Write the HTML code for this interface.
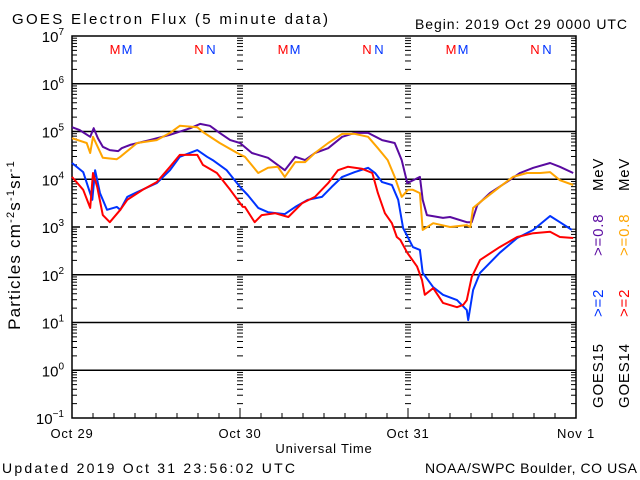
<!DOCTYPE html>
<html><head><meta charset="utf-8"><style>
body{margin:0;background:#fff}
svg{display:block;font-family:"Liberation Sans",sans-serif}
</style></head><body>
<svg id="chart" width="640" height="480" viewBox="0 0 640 480">
<rect width="640" height="480" fill="#fff"/>
<text x="12" y="24" font-size="15" textLength="316" lengthAdjust="spacing">GOES Electron Flux (5 minute data)</text>
<text x="415" y="29" font-size="14" textLength="212" lengthAdjust="spacing">Begin: 2019 Oct 29 0000 UTC</text>
<text transform="translate(20,245) rotate(-90)" font-size="17" text-anchor="middle" letter-spacing="1.2">Particles cm<tspan font-size="11" dy="-6">-2</tspan><tspan dy="6">s</tspan><tspan font-size="11" dy="-6">-1</tspan><tspan dy="6">sr</tspan><tspan font-size="11" dy="-6">-1</tspan></text>
<text x="324" y="453" font-size="13" text-anchor="middle" letter-spacing="0.8">Universal Time</text>
<text x="2" y="473" font-size="14" textLength="293" lengthAdjust="spacing">Updated 2019 Oct 31 23:56:02 UTC</text>
<text x="425" y="473" font-size="14" textLength="212" lengthAdjust="spacing">NOAA/SWPC Boulder, CO USA</text>
<g id="axes"></g>
<g id="series"></g>
<g id="legend" font-size="15" letter-spacing="0.8">
<text transform="translate(603,408) rotate(-90)">GOES15</text>
<text transform="translate(603,317) rotate(-90)" fill="#0033ff">&gt;=2</text>
<text transform="translate(603,256) rotate(-90)" fill="#5a0aa0">&gt;=0.8</text>
<text transform="translate(603,191) rotate(-90)">MeV</text>
<text transform="translate(629,408) rotate(-90)">GOES14</text>
<text transform="translate(629,317) rotate(-90)" fill="#ff0000">&gt;=2</text>
<text transform="translate(629,256) rotate(-90)" fill="#ffa500">&gt;=0.8</text>
<text transform="translate(629,191) rotate(-90)">MeV</text>
</g>
</svg>
<script>
const dayLabels = ["Oct 29","Oct 30","Oct 31","Nov 1"];
const decadeExps = [-1,0,1,2,3,4,5,6,7];
const mnHours = [7,19,31,43,55,67];
const purpleH = [0,1.1,2.6,3.1,3.7,4.4,5.4,6.6,7.1,8.3,11.1,14,16.9,18.3,19.7,21.1,22.6,24,25.7,28,30.4,31.9,33.3,34.7,36.6,38.6,40.4,42.3,44.3,46.1,47.1,47.9,49.7,50.1,50.7,53,54,56.4,57.1,57.9,59.7,62.1,64,65.9,68.3,69.7,71.6];
const purpleV = [5.09,5.03,4.89,5.07,4.86,4.68,4.61,4.59,4.65,4.72,4.82,4.93,5.07,5.16,5.12,4.97,4.82,4.76,4.55,4.45,4.19,4.47,4.40,4.55,4.65,4.89,4.97,4.97,4.82,4.76,4.40,3.92,4.05,3.57,3.25,3.19,3.21,3.10,3.10,3.46,3.71,3.94,4.13,4.24,4.34,4.26,4.13];
const orangeH = [0,2.1,2.6,3,4.4,6.4,6.9,9.3,12.1,14,15.4,17.9,18.7,21.1,23.6,24.7,26.6,28,29.4,30.4,31.9,33.3,34.7,36.6,38.6,40.4,42.3,43.7,45.1,46.1,47.1,48,48.7,49.7,50.1,51.6,54,56.4,56.9,57.3,58.3,61.1,63,65,66.9,68.3,69.7,71.6];
const orangeV = [4.86,4.76,4.55,4.89,4.45,4.42,4.47,4.76,4.82,4.97,5.12,5.09,4.99,4.76,4.55,4.47,4.13,4.24,4.26,4.05,4.36,4.36,4.55,4.76,4.95,4.95,4.89,4.65,4.40,4.05,3.63,3.78,3.78,3.71,2.94,3.08,3.00,3.04,3.00,3.40,3.52,3.84,4.05,4.13,4.13,4.15,3.98,3.88];
const blueH = [0,1.6,2.9,3.3,4,5,6.4,6.9,7.9,9.3,12.1,14,15.4,17.9,19.3,20.1,22.1,24,25.1,26.6,28,30.4,31.9,33.7,35.7,37.1,38.6,40.4,42.3,43.3,44.3,45.7,46.6,47.3,48.7,49.7,50.1,51.6,53,55,56.4,56.6,57.3,58.3,61.1,63.6,65.9,68.3,69.7,71.4];
const blueV = [4.34,4.15,3.57,4.19,3.71,3.36,3.42,3.36,3.63,3.73,3.92,4.19,4.47,4.61,4.47,4.40,4.19,3.84,3.67,3.40,3.31,3.27,3.42,3.57,3.63,3.84,4.05,4.15,4.24,4.13,3.94,3.88,3.57,2.98,2.58,2.52,2.04,1.74,1.58,1.47,1.26,1.05,1.68,2.04,2.46,2.77,2.94,3.23,3.10,2.94];
const redH = [0,1.6,2.6,3,3.6,4.4,5.4,6.9,7.9,10.1,12.1,14,15.4,17.9,18.7,20.7,22.6,24.4,24.7,26.1,27.1,29,30.9,32.9,34.7,36.6,38,39.4,41.4,42.9,43.7,44.7,45.7,46.4,46.9,47.9,49.3,50,50.4,51.6,53,55,55.9,56.4,57.1,58.3,61.1,63.6,65.9,68.3,69.7,71.6];
const redV = [4.05,3.78,3.40,4.13,3.84,3.25,3.10,3.36,3.57,3.78,3.94,4.26,4.51,4.51,4.30,4.13,3.78,3.42,3.42,3.10,3.25,3.29,3.21,3.50,3.63,3.92,4.19,4.26,4.22,4.13,3.71,3.29,3.08,2.79,2.73,2.46,2.17,1.89,1.58,1.72,1.41,1.32,1.37,1.47,1.95,2.31,2.58,2.79,2.87,2.90,2.79,2.77];

const NS="http://www.w3.org/2000/svg";
const L=72,R=576,T=36,B=418;
const xs=h=>L+(R-L)*h/72;
const ys=v=>B-(B-T)*(v+1)/8;
function mk(tag,attrs,parent){const e=document.createElementNS(NS,tag);for(const k in attrs)e.setAttribute(k,attrs[k]);parent.appendChild(e);return e;}
const ax=document.getElementById('axes');
for(let d=-1;d<7;d++){for(let m=2;m<10;m++){const y=ys(d+Math.log10(m));
 for(const x0 of [L,R-5]){const t=mk('line',{x1:x0,x2:x0+5,y1:y,y2:y,stroke:'#000'},ax);
 
 }
 for(const dx of [1,2]){const t=mk('line',{x1:xs(dx*24)-3,x2:xs(dx*24)+3,y1:y,y2:y,stroke:'#000'},ax);
 
 }
}}
decadeExps.forEach(e=>{const y=ys(e);
 if(e>-1&&e<7){const g=mk('line',{x1:L,x2:R,y1:y,y2:y,stroke:'#000','stroke-width':1.5},ax);
 if(e===3)g.setAttribute('stroke-dasharray','8,6');
 
 }
 const t=mk('text',{x:L-8,y:y+6,'font-size':15,'text-anchor':'end'},ax);
 
 
 t.textContent='10';const s=mk('tspan',{dy:-7,'font-size':10},t);s.textContent=String(e).replace('-','\u2212');
});
for(let h=3;h<72;h+=3){const t=mk('line',{x1:xs(h),x2:xs(h),y1:B,y2:B-(h%24===0?10:5),stroke:'#000'},ax);
 
 }
dayLabels.forEach((d,i)=>{const t=mk('text',{x:xs(i*24),y:B+20,'font-size':13,'text-anchor':'middle','letter-spacing':0.8},ax);
 
 
 t.textContent=d;});
mnHours.forEach((h,i)=>{const isM=i%2===0;
 [['#ff0000',-6],['#0033ff',6]].forEach(([c,dx])=>{const t=mk('text',{x:xs(h)+dx,y:54,'font-size':13,fill:c,'text-anchor':'middle'},ax);
 
 
 t.textContent=isM?'M':'N';});});
const frame=mk('rect',{x:L,y:T,width:R-L,height:B-T,fill:'none',stroke:'#000','stroke-width':1.5},ax);


const sg=document.getElementById('series');
[[purpleH,purpleV,'#5a0aa0','goes15-ge08-line'],[orangeH,orangeV,'#ffa500','goes14-ge08-line'],[blueH,blueV,'#0033ff','goes15-ge2-line'],[redH,redV,'#ff0000','goes14-ge2-line']].forEach(([H,V,c,n])=>{
 const p=mk('polyline',{points:H.map((h,i)=>xs(h).toFixed(1)+','+ys(V[i]).toFixed(1)).join(' '),fill:'none',stroke:c,'stroke-width':2,'stroke-linejoin':'round'},sg);
 
 
});
</script>
</body></html>
